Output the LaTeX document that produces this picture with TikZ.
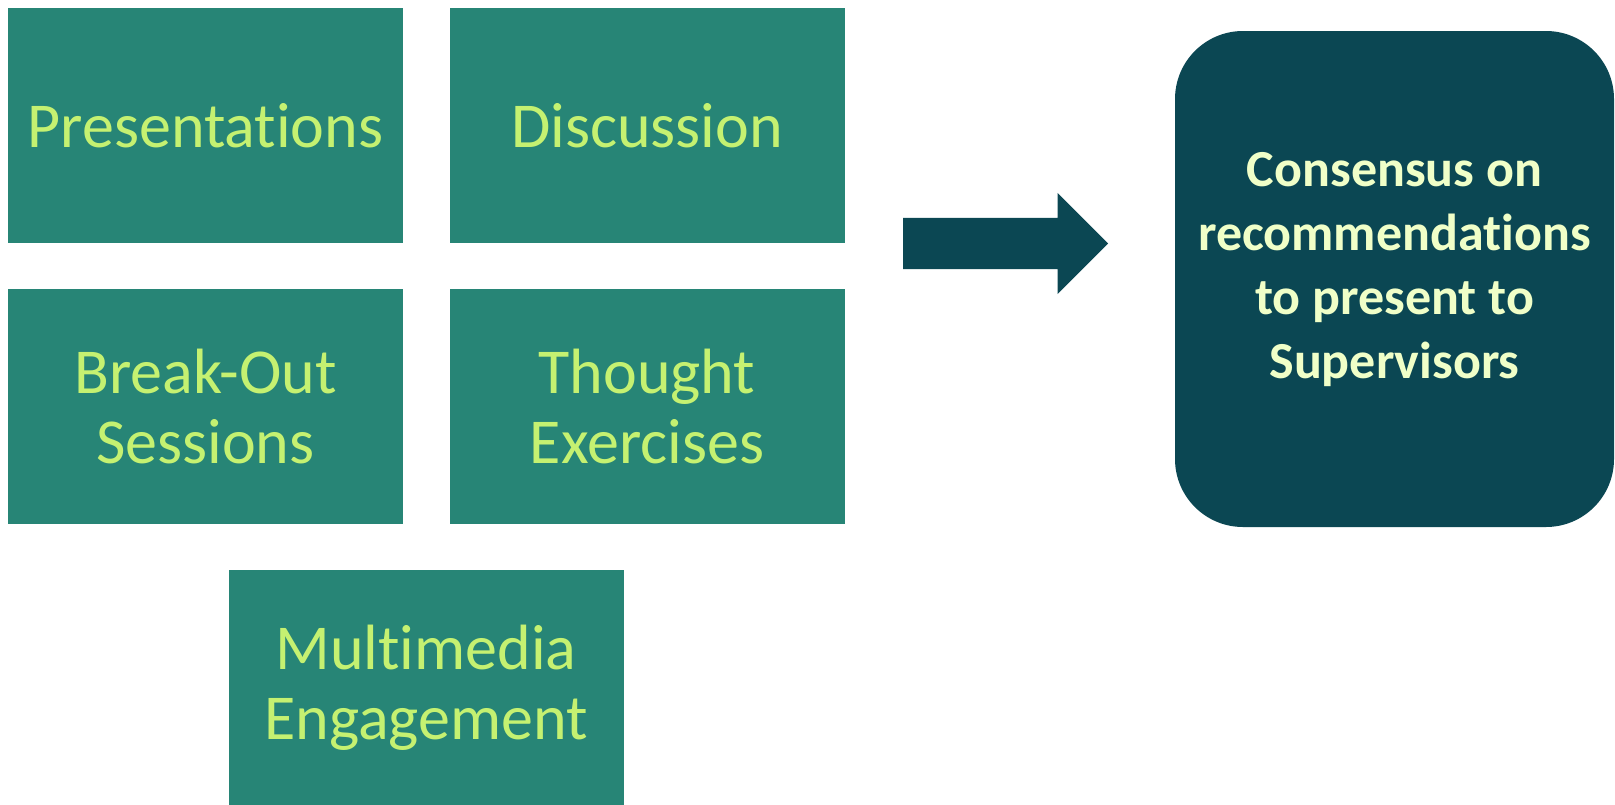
\documentclass[tikz,border=0pt]{standalone}
\usepackage{fontspec}
\setmainfont{Carlito}[Renderer=OpenType, RawFeature={-liga;-rlig;-clig;-dlig;-calt}]
\usetikzlibrary{positioning}
\usetikzlibrary{shapes.arrows}
\definecolor{boxteal}{HTML}{278576}
\definecolor{boxtext}{HTML}{C5F171}
\definecolor{goaldark}{HTML}{0B4753}
\definecolor{goaltext}{HTML}{F0FFC8}

\begin{document}
\begin{tikzpicture}[x=1pt,y=-1pt,
    activity/.style={rectangle, fill=boxteal, text=boxtext, align=center, minimum width=395pt, minimum height=235pt, inner sep=0pt, font=\fontsize{64}{70}\selectfont}]
    \useasboundingbox (0,0) rectangle (1615,804);

    % Activity boxes
    \node[activity] (pres) at (205.5,125.5) {Presentations};
    \node[activity] (disc) at (647,125.5) {Discussion};
    \node[activity] (breakout) at (205.5,406.5) {Break-Out\\Sessions};
    \node[activity] (thought) at (647,406.5) {Thought\\Exercises};
    \node[activity, minimum height=236pt] (media) at (426,687.5) {Multimedia\\Engagement};

    % Block arrow
    \node[single arrow, fill=goaldark, minimum height=205pt, single arrow head extend=25pt, single arrow tip angle=90, inner xsep=0pt, inner ysep=25.5pt, anchor=west] (arrow) at (903,243.5) {};

    % Outcome box
    \node[rectangle, rounded corners=68pt, fill=goaldark, minimum width=439pt, minimum height=496pt] (goal) at (1394.5,279) {};
    \node[text=goaltext, align=center, font=\fontsize{52}{64}\selectfont\bfseries] (goallabel) at ([yshift=9pt]goal.center) {Consensus on\\recommendations\\to present to\\Supervisors};
\end{tikzpicture}
\end{document}
